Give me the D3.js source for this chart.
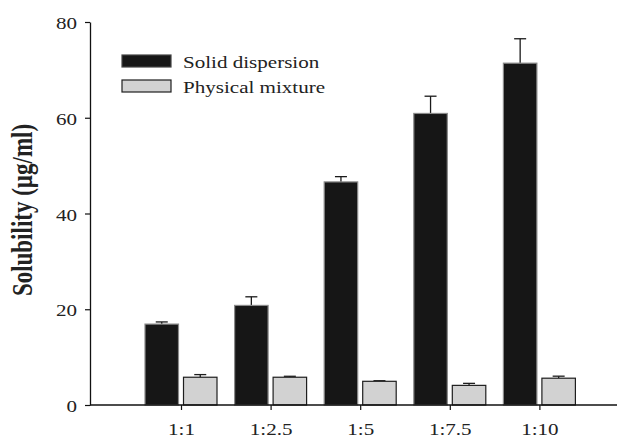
<!DOCTYPE html>
<html><head><meta charset="utf-8">
<script src="https://cdn.jsdelivr.net/npm/d3@7"></script>
<style>html,body{margin:0;padding:0;background:#fff;}svg{display:block;}</style>
</head><body>
<svg id="chart" width="619" height="438"></svg>
<script>
const categories = ["1:1", "1:2.5", "1:5", "1:7.5", "1:10"];
const seriesNames = ["Solid dispersion", "Physical mixture"];
const solidValues = [16.9, 20.8, 46.6, 60.9, 71.4];
const solidErrors = [0.45, 1.8, 1.1, 3.6, 5.1];
const physicalValues = [5.8, 5.8, 4.95, 4.1, 5.6];
const physicalErrors = [0.55, 0.2, 0.12, 0.42, 0.42];
const yTicks = [0, 20, 40, 60, 80];
const yLabel = "Solubility (µg/ml)";

const SX = 1.24; // horizontal stretch of the original figure text
const font = "'Liberation Serif','Times New Roman',serif";
const svg = d3.select("#chart");

const y = d3.scaleLinear().domain([0, 80]).range([405, 22]);
const x = d3.scalePoint().domain(categories).range([181, 539.4]);
const xs = d3.scaleBand().domain(seriesNames).range([-36, 36]).paddingInner(0.13);

const series = [
  {name: seriesNames[0], values: solidValues, errors: solidErrors, fill: "#161616", stroke: "#8a8a8a", err: "#1a1a1a"},
  {name: seriesNames[1], values: physicalValues, errors: physicalErrors, fill: "#d2d2d2", stroke: "#1e1e1e", err: "#1e1e1e"}
];

// bars and error bars
series.forEach(s => {
  const g = svg.append("g");
  categories.forEach((c, i) => {
    const x0 = x(c) + xs(s.name);
    const w = xs.bandwidth();
    const cx = x0 + w / 2;
    const top = y(s.values[i] + s.errors[i]);
    g.append("line").attr("x1", cx).attr("x2", cx)
      .attr("y1", y(s.values[i])).attr("y2", top)
      .attr("stroke", s.err).attr("stroke-width", 1.3);
    g.append("line").attr("x1", cx - 6).attr("x2", cx + 6)
      .attr("y1", top).attr("y2", top)
      .attr("stroke", s.err).attr("stroke-width", 1.3);
    g.append("rect").attr("x", x0).attr("y", y(s.values[i]))
      .attr("width", w).attr("height", y(0) - y(s.values[i]))
      .attr("fill", s.fill).attr("stroke", s.stroke).attr("stroke-width", 1.2);
  });
});

// y axis
const yAxis = svg.append("g").attr("transform", "translate(90,0)")
  .call(d3.axisLeft(y).tickValues(yTicks).tickSize(5).tickPadding(0).tickSizeOuter(0));
yAxis.select(".domain").attr("stroke", "#111").attr("stroke-width", 1.3);
yAxis.selectAll(".tick line").attr("stroke", "#111").attr("stroke-width", 1.2);
yAxis.selectAll(".tick text")
  .attr("x", null).attr("dy", null)
  .attr("transform", `translate(-13,6.5) scale(${SX},1)`)
  .attr("text-anchor", "end")
  .style("font-family", font).style("font-size", "17px").attr("fill", "#222");

// x axis
const xAxisG = svg.append("g").attr("transform", "translate(0,405)");
xAxisG.append("line").attr("x1", 90).attr("x2", 617).attr("y1", 0).attr("y2", 0)
  .attr("stroke", "#111").attr("stroke-width", 1.3);
const xAxis = xAxisG.append("g").call(d3.axisBottom(x).tickSize(5).tickSizeOuter(0));
xAxis.select(".domain").remove();
xAxis.selectAll(".tick line").attr("stroke", "#111").attr("stroke-width", 1.2);
xAxis.selectAll(".tick text")
  .attr("y", null).attr("dy", null)
  .attr("transform", `translate(0,29.5) scale(${SX},1)`)
  .attr("text-anchor", "middle")
  .style("font-family", font).style("font-size", "17px").attr("fill", "#222");

// y label
svg.append("text")
  .attr("transform", `translate(32,210) scale(${SX},1) rotate(-90)`)
  .attr("text-anchor", "middle")
  .style("font-family", font).style("font-size", "23px").style("font-weight", "bold")
  .attr("fill", "#222").text(yLabel);

// legend
const legendY = [55, 80];
series.forEach((s, i) => {
  svg.append("rect").attr("x", 122).attr("y", legendY[i]).attr("width", 49).attr("height", 12)
    .attr("fill", s.fill).attr("stroke", i === 0 ? "#444" : "#1e1e1e").attr("stroke-width", 1.2);
  svg.append("text")
    .attr("transform", `translate(183,${legendY[i] + 12.8}) scale(${SX},1)`)
    .style("font-family", font).style("font-size", "17px").attr("fill", "#222")
    .text(s.name);
});
</script>
</body></html>
